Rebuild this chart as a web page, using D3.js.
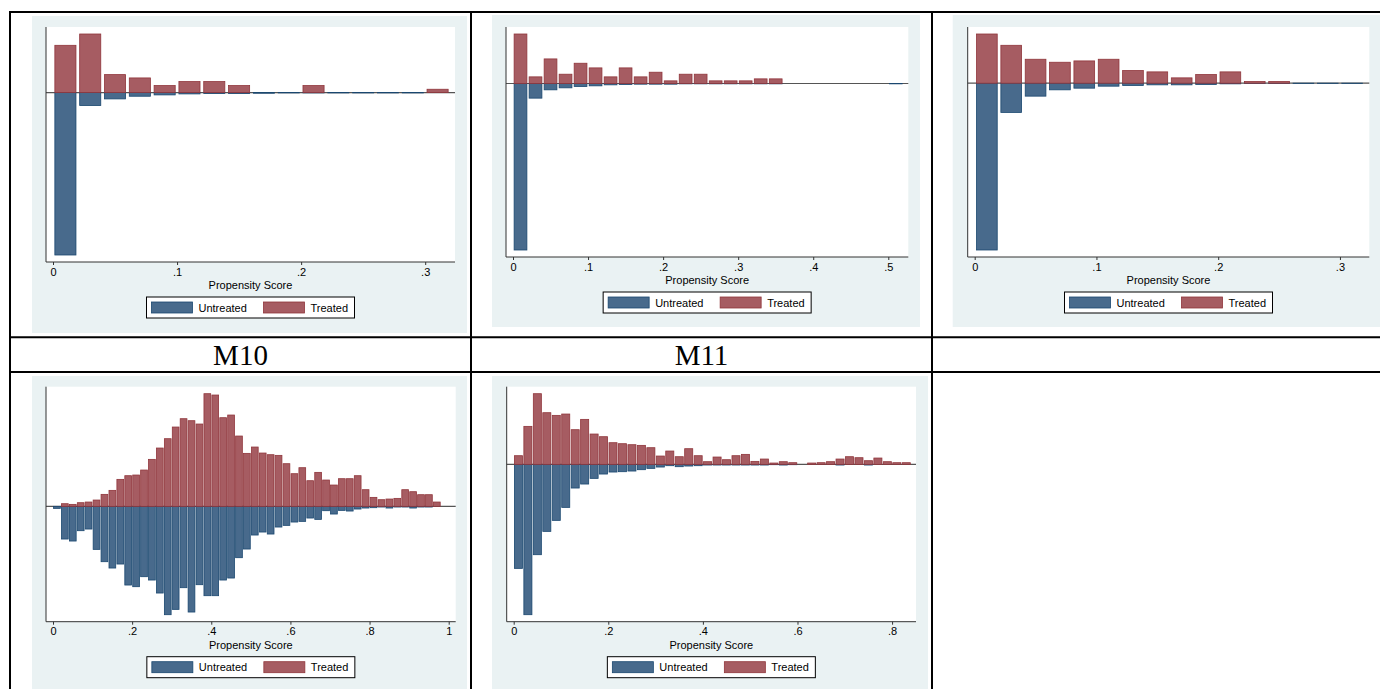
<!DOCTYPE html>
<html>
  <head>
    <meta charset="utf-8" />
    <title>Propensity Score histograms</title>
    <style>
      body { margin: 0; background: #fff; }
      svg { display: block; }
      text { font-family: "Liberation Sans", Arial, sans-serif; fill: #000; }
      text.row-title { font-family: "Liberation Serif", "Times New Roman", serif; }
    </style>
  </head>
  <body>
    <div id="chart"></div>
    <script src="https://cdnjs.cloudflare.com/ajax/libs/d3/7.8.5/d3.min.js"></script>
    <script>
// bin width of every histogram (propensity score)
const binWidth = 0.02;
const seriesNames = ['Untreated', 'Treated'];

// panel 1 (top left)
const p1Treated   = [142, 176, 54, 44, 21, 33, 33, 21, 0, 0, 21, 0, 0, 0, 0, 10];
const p1Untreated = [488, 39, 19, 11, 7, 4, 3, 3, 2, 1, 1, 1, 1, 1, 1, 0];
const p1Ticks = [0, 0.1, 0.2, 0.3];
const p1TickLabels = ['0', '.1', '.2', '.3'];

// panel 2 (top middle)
const p2Treated   = [149, 20, 74, 28, 61, 47, 20, 47, 20, 34, 8, 28, 28, 8, 8, 8, 14, 14, 0, 0, 0, 0, 0, 0, 0, 0];
const p2Untreated = [501, 44, 19, 13, 9, 7, 4, 3, 2, 2, 2, 1, 1, 1, 1, 1, 1, 1, 0, 0, 0, 0, 0, 0, 0, 1];
const p2Ticks = [0, 0.1, 0.2, 0.3, 0.4, 0.5];
const p2TickLabels = ['0', '.1', '.2', '.3', '.4', '.5'];

// panel 3 (top right)
const p3Treated   = [148, 114, 72, 63, 67, 72, 38, 34, 16, 26, 34, 5, 5, 0, 0, 0];
const p3Untreated = [502, 88, 39, 20, 15, 9, 7, 5, 5, 4, 2, 1, 1, 1, 1, 1];
const p3Ticks = [0, 0.1, 0.2, 0.3];
const p3TickLabels = ['0', '.1', '.2', '.3'];

// M10
const m10Treated = [0, 8, 6, 11, 13, 19, 36, 48, 81, 92, 94, 109, 141, 175, 203, 238, 263, 257, 247, 338,
  334, 266, 274, 211, 159, 178, 160, 155, 153, 128, 98, 116, 77, 102, 79, 64, 83, 83, 92, 50,
  27, 20, 22, 24, 50, 44, 35, 35, 13, 0];
const m10Untreated = [6, 98, 104, 73, 68, 129, 166, 185, 173, 236, 241, 211, 221, 260, 325, 309, 244, 317, 235, 268,
  268, 221, 215, 154, 128, 86, 77, 83, 62, 57, 47, 45, 35, 39, 13, 23, 12, 14, 8, 5,
  4, 2, 5, 2, 2, 5, 2, 2, 0, 0];
const m10Ticks = [0, 0.2, 0.4, 0.6, 0.8, 1];
const m10TickLabels = ['0', '.2', '.4', '.6', '.8', '1'];

// M11
const m11Treated = [26, 114, 212, 155, 147, 151, 104, 135, 91, 83, 65, 62, 59, 57, 50, 25, 40, 23, 47, 26,
  8, 22, 14, 26, 30, 9, 16, 4, 8, 5, 0, 4, 5, 8, 16, 23, 20, 11, 19, 8, 5, 5];
const m11Untreated = [312, 451, 271, 201, 168, 129, 71, 59, 42, 29, 23, 22, 20, 16, 12, 8, 4, 7, 5, 4,
  2, 2, 2, 2, 2, 2, 2, 1, 2, 1, 0, 0, 0, 0, 2, 0, 0, 2, 0, 0, 0, 0];
const m11Ticks = [0, 0.2, 0.4, 0.6, 0.8];
const m11TickLabels = ['0', '.2', '.4', '.6', '.8'];

const rowTitles = ['M10', 'M11', ''];

const colors = {
  bg: '#eaf2f3',
  untreated: '#486a8c', untreatedLine: '#1a476f',
  treated: '#a65c62', treatedLine: '#90353b'
};

// layout: graph region (bg) and plot region for each panel
const panels = [
  { treated: p1Treated, untreated: p1Untreated, ticks: p1Ticks, labels: p1TickLabels,
    bg: [32, 16, 435, 317], plot: [46, 27, 409, 235], padR: 5 },
  { treated: p2Treated, untreated: p2Untreated, ticks: p2Ticks, labels: p2TickLabels,
    bg: [492, 15, 428, 312], plot: [506, 27, 402.3, 230], padR: 5 },
  { treated: p3Treated, untreated: p3Untreated, ticks: p3Ticks, labels: p3TickLabels,
    bg: [952.7, 15, 440, 312], plot: [967.7, 27, 401.6, 230], padR: 5 },
  { treated: m10Treated, untreated: m10Untreated, ticks: m10Ticks, labels: m10TickLabels,
    bg: [32, 376, 435, 330], plot: [46, 386.7, 409.7, 235], padR: 7 },
  { treated: m11Treated, untreated: m11Untreated, ticks: m11Ticks, labels: m11TickLabels,
    bg: [492, 376, 436, 330], plot: [506.7, 386.7, 409.3, 235], padR: 5 }
];

const W = 1380, H = 689;
const svg = d3.select('#chart').append('svg')
  .attr('width', W)
  .attr('height', H);

function drawPanel(p) {
  const g = svg.append('g');
  const [px, py, pw, ph] = p.plot;
  const n = p.treated.length;

  g.append('rect')
    .attr('x', p.bg[0]).attr('y', p.bg[1])
    .attr('width', p.bg[2]).attr('height', p.bg[3])
    .attr('fill', colors.bg);
  g.append('rect')
    .attr('x', px).attr('y', py)
    .attr('width', pw).attr('height', ph)
    .attr('fill', '#fff');

  const x = d3.scaleLinear()
    .domain([0, n * binWidth])
    .range([px + 7, px + pw - p.padR]);
  const y = d3.scaleLinear()
    .domain([-d3.max(p.untreated), d3.max(p.treated)])
    .range([py + ph - 7, py + 7]);

  // zero line
  g.append('line')
    .attr('x1', px).attr('x2', px + pw)
    .attr('y1', y(0)).attr('y2', y(0))
    .attr('stroke', '#555').attr('stroke-width', 1.2);

  const bins = d3.range(n).map(i => ({
    x0: i * binWidth,
    t: p.treated[i],
    u: p.untreated[i]
  }));
  const bw = binWidth * 0.85;
  const off = (binWidth - bw) / 2;

  g.append('g').selectAll('rect')
    .data(bins.filter(d => d.u > 0))
    .join('rect')
      .attr('x', d => x(d.x0 + off))
      .attr('width', d => x(d.x0 + off + bw) - x(d.x0 + off))
      .attr('y', y(0))
      .attr('height', d => y(-d.u) - y(0))
      .attr('fill', colors.untreated)
      .attr('stroke', colors.untreatedLine)
      .attr('stroke-width', 0.8);

  g.append('g').selectAll('rect')
    .data(bins.filter(d => d.t > 0))
    .join('rect')
      .attr('x', d => x(d.x0 + off))
      .attr('width', d => x(d.x0 + off + bw) - x(d.x0 + off))
      .attr('y', d => y(d.t))
      .attr('height', d => y(0) - y(d.t))
      .attr('fill', colors.treated)
      .attr('stroke', colors.treatedLine)
      .attr('stroke-width', 0.8);

  // axes
  const xAxis = d3.axisBottom(x)
    .tickValues(p.ticks)
    .tickFormat((d, i) => p.labels[i])
    .tickSize(3)
    .tickPadding(3);
  const ax = g.append('g')
    .attr('transform', `translate(0,${py + ph})`)
    .call(xAxis);
  ax.select('.domain').remove();
  ax.selectAll('line').attr('stroke', '#333');
  ax.selectAll('text').attr('font-size', 11);

  g.append('line')
    .attr('x1', px).attr('x2', px + pw)
    .attr('y1', py + ph).attr('y2', py + ph)
    .attr('stroke', '#333').attr('stroke-width', 1);
  g.append('line')
    .attr('x1', px).attr('x2', px)
    .attr('y1', py).attr('y2', py + ph)
    .attr('stroke', '#333').attr('stroke-width', 1);

  const cx = px + pw / 2;
  g.append('text')
    .attr('x', cx).attr('y', py + ph + 27)
    .attr('text-anchor', 'middle')
    .attr('font-size', 11)
    .text('Propensity Score');

  // legend
  const lw = 208, lh = 21;
  const lx = cx - lw / 2, ly = py + ph + 35;
  const leg = g.append('g').attr('transform', `translate(${lx},${ly})`);
  leg.append('rect')
    .attr('width', lw).attr('height', lh)
    .attr('fill', '#fff').attr('stroke', '#000').attr('stroke-width', 1);
  const items = [
    { name: seriesNames[0], fill: colors.untreated, line: colors.untreatedLine, at: 5 },
    { name: seriesNames[1], fill: colors.treated, line: colors.treatedLine, at: 117 }
  ];
  items.forEach(it => {
    leg.append('rect')
      .attr('x', it.at).attr('y', 5)
      .attr('width', 41).attr('height', 11)
      .attr('fill', it.fill).attr('stroke', it.line).attr('stroke-width', 0.8);
    leg.append('text')
      .attr('x', it.at + 47).attr('y', 14.5)
      .attr('font-size', 11)
      .text(it.name);
  });
}

panels.forEach(drawPanel);

// table grid
const grid = svg.append('g').attr('stroke', '#000').attr('stroke-width', 2);
[12, 337.3, 372].forEach(v => {
  grid.append('line').attr('x1', 9).attr('x2', W).attr('y1', v).attr('y2', v);
});
[10, 471, 932].forEach(v => {
  grid.append('line').attr('x1', v).attr('x2', v).attr('y1', 11).attr('y2', H);
});

// row titles
const colCenters = [240.5, 701.5, 1156];
rowTitles.forEach((t, i) => {
  svg.append('text')
    .attr('class', 'row-title')
    .attr('x', colCenters[i]).attr('y', 364.5)
    .attr('text-anchor', 'middle')
    .attr('font-size', 29)
    .text(t);
});
    </script>
  </body>
</html>
